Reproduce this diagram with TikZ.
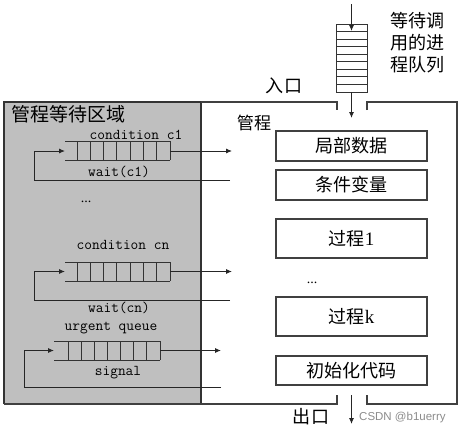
\documentclass[tikz,border=0pt]{standalone}
\usepackage{fontspec}
\setmainfont{Liberation Serif}
\newfontfamily\cjk{Noto Sans CJK SC}[Scale=0.95]
\newfontfamily\wmfont{Liberation Sans}
\usetikzlibrary{arrows.meta}
\begin{document}
\begin{tikzpicture}[x=1pt,y=-1pt,
  ln/.style={line width=0.9pt,black!85},
  arr/.style={ln,-{Latex[length=6pt,width=5pt]}},
  box/.style={draw=black!75,line width=1.1pt,minimum width=151pt,inner sep=0pt},
  cjkt/.style={font=\cjk\fontsize{19}{20}\selectfont,inner sep=0pt},
  mono/.style={font=\ttfamily\fontsize{15}{16}\selectfont,inner sep=0pt},
  cell/.style={draw=black!80,line width=0.8pt}]
\useasboundingbox (0,0) rectangle (465,434);
% gray waiting area
\fill[black!25] (4,102) rectangle (201,404);
\draw[line width=1.2pt,black!80] (4,404) -- (4,102) -- (201,102) -- (201,404);
% monitor outline
\draw[line width=1.2pt,black!75] (201,102) -- (337,102) -- (337,110);
\draw[line width=1.2pt,black!75] (367,110) -- (367,102) -- (457,102) -- (457,404) -- (367,404) -- (367,395);
\draw[line width=1.2pt,black!75] (4,404) -- (337,404) -- (337,395);
% entry queue
\draw[cell] (336,24) rectangle (367,92);
\foreach \i in {1,...,8} \draw[cell] (336,{24+\i*68/9}) -- (367,{24+\i*68/9});
\coordinate (qin) at (351.5,4);
\coordinate (qtop) at (351.5,31);
\coordinate (qbot) at (351.5,92);
\coordinate (qenter) at (351.5,118);
\draw[arr] (qin) -- (qtop);
\draw[arr] (qbot) -- (qenter);
\node[cjkt,align=left,anchor=north west] (waitq) at (390,12) {等待调\\[2pt]用的进\\[2pt]程队列};
\node[cjkt] (entry) at (284,86) {入口};
\node[font=\cjk\fontsize{18}{18}\selectfont,inner sep=0pt] (mon) at (254,123) {管程};
\node[font=\cjk\fontsize{20}{20}\selectfont,inner sep=0pt,anchor=west] (area) at (11,114) {管程等待区域};
% right boxes
\node[box,minimum height=30pt,cjkt,draw=black!75] (b1) at (351.5,146) {局部数据};
\node[box,minimum height=30pt,cjkt,draw=black!75] (b2) at (351.5,185) {条件变量};
\node[box,minimum height=39pt,cjkt,draw=black!75] (b3) at (351.5,238.5) {过程\rmfamily 1};
\node[font=\fontsize{14}{14}\selectfont,inner sep=0pt] (dots2) at (312,283) {...};
\node[box,minimum height=39pt,cjkt,draw=black!75] (b4) at (351.5,316.5) {过程\rmfamily k};
\node[box,minimum height=29pt,cjkt,draw=black!75] (b5) at (351.5,370.5) {初始化代码};
% exit
\coordinate (exs) at (351.5,395);
\coordinate (exe) at (351.5,424);
\draw[arr] (exs) -- (exe);
\node[cjkt] (exit) at (311,417) {出口};
\node[font=\wmfont\fontsize{11.5}{12}\selectfont,text=black!45,inner sep=0pt,anchor=west] (wm) at (359,418) {CSDN @b1uerry};
% queue c1
\foreach \y in {141,160} \draw[cell] (65,\y) -- (170,\y);
\foreach \i in {0,...,7} \draw[cell] ({77+\i*93/7},141) -- ({77+\i*93/7},160);
\coordinate (c1in) at (65,151);
\coordinate (c1out) at (170,151);
\coordinate (c1a) at (34,151);
\coordinate (c1b) at (34,180);
\coordinate (c1c) at (230,180);
\coordinate (c1d) at (232,151);
\draw[arr] (c1c) -- (c1b) -- (c1a) -- (c1in);
\draw[arr] (c1out) -- (c1d);
\node[mono] (t1) at (136,135) {condition c1};
\node[mono] (w1) at (119,172) {wait(c1)};
\node[font=\fontsize{14}{14}\selectfont,inner sep=0pt] (dots1) at (86,202) {...};
% queue cn
\foreach \y in {262,281} \draw[cell] (65,\y) -- (170,\y);
\foreach \i in {0,...,7} \draw[cell] ({77+\i*93/7},262) -- ({77+\i*93/7},281);
\coordinate (cnin) at (65,271.5);
\coordinate (cnout) at (170,271.5);
\coordinate (cna) at (34,271.5);
\coordinate (cnb) at (34,300);
\coordinate (cnc) at (230,300);
\coordinate (cnd) at (232,271.5);
\draw[arr] (cnc) -- (cnb) -- (cna) -- (cnin);
\draw[arr] (cnout) -- (cnd);
\node[mono] (tn) at (123,245) {condition cn};
\node[mono] (wn) at (119,308) {wait(cn)};
% urgent queue
\foreach \y in {341,360} \draw[cell] (54,\y) -- (160,\y);
\foreach \i in {0,...,7} \draw[cell] ({68+\i*92/7},341) -- ({68+\i*92/7},360);
\coordinate (uin) at (54,350.5);
\coordinate (uout) at (160,350.5);
\coordinate (ua) at (24,350.5);
\coordinate (ub) at (24,387);
\coordinate (uc) at (221,387);
\coordinate (ud) at (221,350.5);
\draw[arr] (uc) -- (ub) -- (ua) -- (uin);
\draw[arr] (uout) -- (ud);
\node[mono] (tu) at (111,328) {urgent queue};
\node[mono] (su) at (118,373) {signal};
\end{tikzpicture}
\end{document}
